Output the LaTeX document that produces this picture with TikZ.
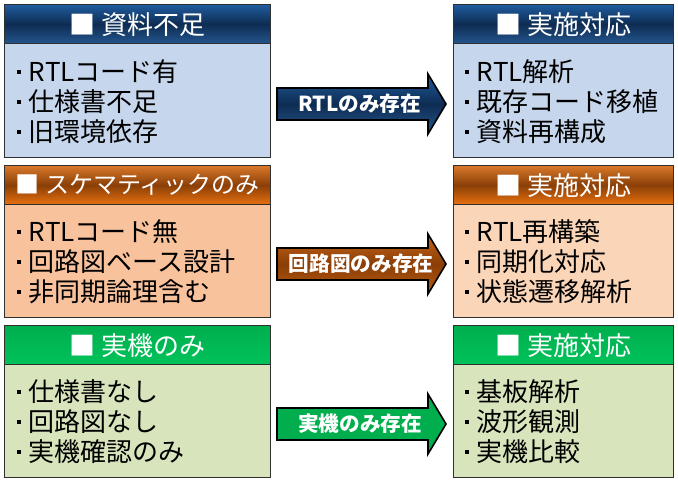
\documentclass[tikz,border=0pt]{standalone}
\usepackage{fontspec}
\setmainfont{Noto Sans CJK JP}
\definecolor{bordercol}{HTML}{303030}
\definecolor{blueT}{HTML}{1F5C9E}
\definecolor{blueM}{HTML}{0E2C52}
\definecolor{blueB}{HTML}{24568E}
\definecolor{orT}{HTML}{D9782A}
\definecolor{orM}{HTML}{8A3F07}
\definecolor{orB}{HTML}{E8700F}
\definecolor{grT}{HTML}{00AE4E}
\definecolor{grB}{HTML}{00C35A}
\definecolor{blueBody}{HTML}{C6D6EC}
\definecolor{orBodyL}{HTML}{F8C29C}
\definecolor{orBodyR}{HTML}{FBD5B8}
\definecolor{grBody}{HTML}{D8E4BC}
\definecolor{arOT}{HTML}{C8651A}
\definecolor{arOM}{HTML}{8A3E06}
\definecolor{arOB}{HTML}{B85A10}
\newcommand{\sqbul}{\hspace{0.45em}\rule[0.31em]{0.16em}{0.16em}\hspace{0.3em}}
\begin{document}
\begin{tikzpicture}[x=0.75pt,y=-0.75pt,
  boxpart/.style={draw=bordercol, line width=1pt, inner sep=0pt, anchor=north west},
  hdrL/.style={boxpart, minimum width=199.5pt, minimum height=29.25pt},
  hdrR/.style={boxpart, minimum width=165pt, minimum height=29.25pt},
  bodyL/.style={boxpart, minimum width=199.5pt, minimum height=85.5pt},
  bodyR/.style={boxpart, minimum width=165pt, minimum height=85.5pt},
  blueshade/.style={top color=blueT, bottom color=blueB, middle color=blueM},
  orshade/.style={top color=orT, bottom color=orB, middle color=orM},
  grshade/.style={top color=grT, bottom color=grB},
  htext/.style={text=white, inner sep=0pt, font=\fontsize{19.5}{22}\selectfont},
  btext/.style={text=black, inner sep=0pt, anchor=west, align=left, font=\fontsize{19.5}{22.5}\selectfont},
  arrowbody/.style={draw=black, line width=1.2pt, line join=miter},
  atext/.style={text=white, inner sep=0pt, font=\fontsize{15.5}{18}\selectfont\bfseries}
]
\useasboundingbox (0,0) rectangle (678,480);
\fill[white] (0,0) rectangle (678,480);

% ---------- Row 1 ----------
\node[bodyL, fill=blueBody] (b1) at (4,43) {};
\node[hdrL, blueshade] (h1) at (4,4) {};
\node[htext] (h1t) at (h1.center) {■ 資料不足};
\node[btext] (t1) at (5,102) {\sqbul RTLコード有\\\sqbul 仕様書不足\\\sqbul 旧環境依存};

\node[bodyR, fill=blueBody] (rb1) at (453,43) {};
\node[hdrR, blueshade] (rh1) at (453,4) {};
\node[htext] (rh1t) at (rh1.center) {■ 実施対応};
\node[btext] (rt1) at (453,102) {\sqbul RTL解析\\\sqbul 既存コード移植\\\sqbul 資料再構成};

\path[arrowbody, blueshade] (277,88) -- (428,88) -- (428,74) -- (446,104) -- (428,134) -- (428,120) -- (277,120) -- cycle;
\node[atext] (a1) at (360,104) {RTLのみ存在};

% ---------- Row 2 ----------
\node[bodyL, fill=orBodyL] (b2) at (4,203) {};
\node[hdrL, orshade] (h2) at (4,165) {};
\node[htext, font=\fontsize{18}{22}\selectfont] (h2t) at (h2.center) {■ スケマティックのみ};
\node[btext] (t2) at (5,262) {\sqbul RTLコード無\\\sqbul 回路図ベース設計\\\sqbul 非同期論理含む};

\node[bodyR, fill=orBodyR] (rb2) at (453,203) {};
\node[hdrR, orshade] (rh2) at (453,165) {};
\node[htext] (rh2t) at (rh2.center) {■ 実施対応};
\node[btext] (rt2) at (453,262) {\sqbul RTL再構築\\\sqbul 同期化対応\\\sqbul 状態遷移解析};

\path[arrowbody, top color=arOT, bottom color=arOB, middle color=arOM] (277,248) -- (428,248) -- (428,234) -- (446,264) -- (428,294) -- (428,280) -- (277,280) -- cycle;
\node[atext] (a2) at (361,264) {回路図のみ存在};

% ---------- Row 3 ----------
\node[bodyL, fill=grBody] (b3) at (4,363) {};
\node[hdrL, grshade] (h3) at (4,325) {};
\node[htext] (h3t) at (h3.center) {■ 実機のみ};
\node[btext] (t3) at (5,422) {\sqbul 仕様書なし\\\sqbul 回路図なし\\\sqbul 実機確認のみ};

\node[bodyR, fill=grBody] (rb3) at (453,363) {};
\node[hdrR, grshade] (rh3) at (453,325) {};
\node[htext] (rh3t) at (rh3.center) {■ 実施対応};
\node[btext] (rt3) at (453,422) {\sqbul 基板解析\\\sqbul 波形観測\\\sqbul 実機比較};

\path[arrowbody, fill=grT] (277,408) -- (428,408) -- (428,394) -- (446,424) -- (428,454) -- (428,440) -- (277,440) -- cycle;
\node[atext] (a3) at (360,424) {実機のみ存在};
\end{tikzpicture}
\end{document}
